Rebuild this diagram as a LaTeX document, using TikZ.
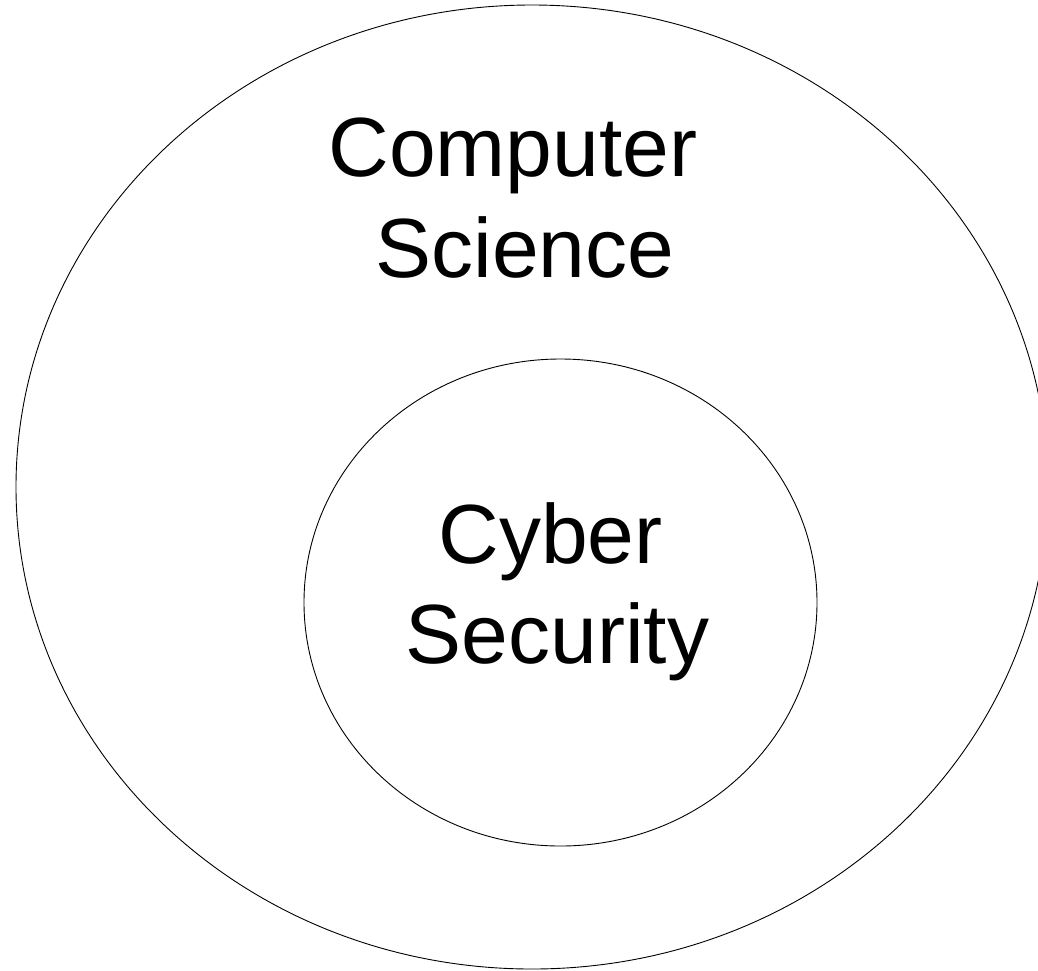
\documentclass[tikz,border=0pt]{standalone}
\usepackage{fontspec}
\setmainfont{Liberation Sans}
\usetikzlibrary{shapes.geometric}
\tikzset{
  ring/.style={draw=black, line width=0.9pt, ellipse, inner sep=0pt},
  lbl/.style={font=\fontsize{84}{100}\selectfont, inner sep=0pt, anchor=base}
}
\begin{document}
\begin{tikzpicture}[x=1pt, y=-1pt]
\useasboundingbox (0,0) rectangle (1038,970);
\clip (0,0) rectangle (1038,970);
\fill[white] (0,0) rectangle (1038,970);
\node[ring, minimum width=1032pt, minimum height=964pt] (outer) at (532,487) {};
\node[ring, minimum width=513pt, minimum height=487pt] (inner) at (560.5,602.5) {};
\node[lbl] (cs1) at (513,176) {Computer};
\node[lbl] (cs2) at (525,277) {Science};
\node[lbl] (cy1) at (550.5,563) {Cyber};
\node[lbl] (cy2) at (557.5,663) {Security};
\end{tikzpicture}
\end{document}
